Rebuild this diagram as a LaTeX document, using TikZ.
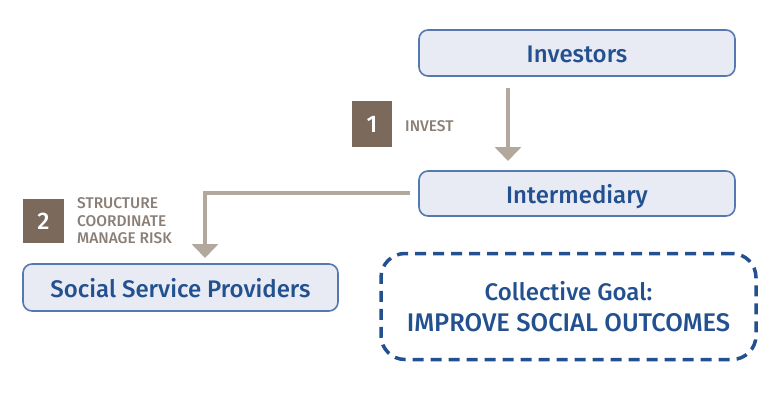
\documentclass[tikz,border=0pt]{standalone}
\usepackage{fontspec}
\setmainfont{Fira Sans}
\IfFontExistsTF{Fira Sans Medium}{\newfontfamily\medfont{Fira Sans Medium}}{\newfontfamily\medfont{Fira Sans}}
\usetikzlibrary{arrows.meta}
\definecolor{boxfill}{HTML}{E8EAF4}
\definecolor{boxline}{HTML}{5578B0}
\definecolor{navy}{HTML}{23508F}
\definecolor{arrowc}{HTML}{B3A89C}
\definecolor{badge}{HTML}{7B6A5B}
\definecolor{lbl}{HTML}{8A7F76}
\begin{document}
\begin{tikzpicture}[x=1pt,y=-1pt,
  entity/.style={draw=boxline, line width=1.6pt, fill=boxfill, rounded corners=9pt, text=navy, text height=20pt, text depth=0pt, font=\medfont\fontsize{24}{28}\selectfont},
  badgebox/.style={fill=badge, text=white, inner sep=0pt, font=\medfont\fontsize{24}{26}\selectfont},
  steplabel/.style={text=lbl, font=\medfont\fontsize{15.5}{17.5}\selectfont, align=left, inner sep=0pt, anchor=west},
  flow/.style={draw=arrowc, line width=4pt, -{Triangle[width=26pt,length=14pt]}},
]
\useasboundingbox (0,0) rectangle (761,404);
\node[entity, minimum width=316pt, minimum height=46pt] (inv) at (577,53) {Investors};
\node[entity, minimum width=316pt, minimum height=45pt] (int) at (577,193.5) {Intermediary};
\node[entity, minimum width=315pt, minimum height=47pt] (ssp) at (180.5,287.5) {Social Service Providers};
\node[draw=navy, line width=3.5pt, dash pattern=on 11pt off 7pt, rounded corners=24pt, minimum width=375pt, minimum height=106pt, align=center, text=navy, font=\medfont\fontsize{24}{31}\selectfont] (goal) at (568.5,306.5) {Collective Goal:\\{\fontsize{25.5}{31}\selectfont IMPROVE SOCIAL OUTCOMES}};
\node[badgebox, minimum width=40pt, minimum height=46pt] (b1) at (372,124) {1};
\node[steplabel] (l1) at (405,126) {INVEST};
\node[badgebox, minimum width=41pt, minimum height=44pt] (b2) at (43.5,221) {2};
\node[steplabel] (l2) at (77,221) {STRUCTURE\\COORDINATE\\MANAGE RISK};
\coordinate (a1s) at (508,88);
\coordinate (a1e) at (508,161);
\draw[flow] (a1s) -- (a1e);
\coordinate (a2s) at (410,193);
\coordinate (a2e) at (205,258);
\draw[flow] (a2s) -| (a2e);
\end{tikzpicture}
\end{document}
